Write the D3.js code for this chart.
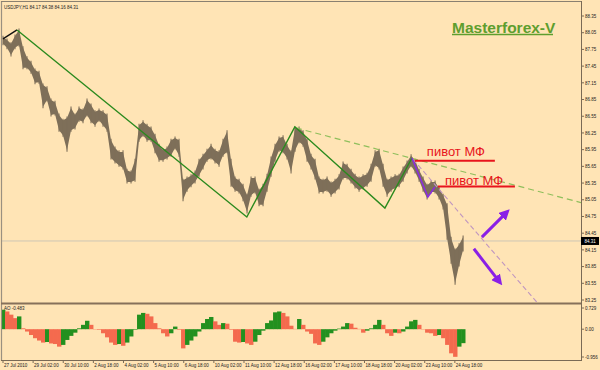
<!DOCTYPE html>
<html><head><meta charset="utf-8">
<script src="https://cdn.jsdelivr.net/npm/d3@7/dist/d3.min.js"></script>
<style>html,body{margin:0;padding:0;background:#FFE4B5;}svg{display:block;}</style>
</head><body>
<script>
// ---- data ----
const STEP = 4.25; // H1 bars per sampled point
const highs = [87.97,87.92,87.85,87.99,88.10,87.78,87.60,87.52,87.38,87.34,87.11,87.06,86.84,86.80,86.57,86.48,86.52,86.70,86.57,86.70,
86.66,86.84,86.75,86.63,86.66,86.63,86.57,86.12,85.98,85.91,85.91,85.58,85.55,85.76,86.39,86.45,86.39,86.34,86.21,86.03,
85.94,85.98,86.12,86.16,86.12,85.40,85.44,85.48,85.55,85.76,85.85,85.94,86.03,85.94,85.91,86.12,86.27,85.76,85.44,85.40,
85.31,85.13,85.44,85.44,85.22,85.31,85.49,85.80,86.03,86.16,86.18,86.03,85.91,86.34,86.34,86.27,86.12,85.85,85.76,85.44,
85.40,85.44,85.35,85.40,85.48,85.71,85.67,85.58,85.49,85.44,85.48,85.51,85.67,85.91,85.94,85.67,85.40,85.44,85.48,85.49,
85.62,85.73,85.84,85.76,85.58,85.44,85.31,85.37,85.37,85.26,85.13,84.96,84.36,84.15,84.24,84.38];
const lows = [87.85,87.78,87.65,87.78,87.83,87.42,87.42,87.34,87.15,87.16,86.72,86.84,86.57,86.59,86.30,86.21,85.94,86.30,86.34,86.48,
86.45,86.57,86.45,86.39,86.48,86.39,86.30,85.80,85.73,85.67,85.62,85.37,85.37,85.40,86.12,86.21,86.12,86.12,85.91,85.76,
85.76,85.80,85.85,85.98,85.85,85.05,85.22,85.30,85.37,85.49,85.62,85.76,85.80,85.73,85.67,85.85,85.91,85.31,85.22,85.19,
85.05,84.83,85.13,85.19,84.96,84.96,85.22,85.49,85.76,85.94,85.91,85.80,85.55,85.94,86.09,86.03,85.76,85.62,85.44,85.19,
85.19,85.22,85.13,85.19,85.26,85.44,85.44,85.37,85.28,85.22,85.26,85.31,85.40,85.67,85.62,85.31,85.13,85.22,85.26,85.30,
85.40,85.55,85.66,85.55,85.40,85.22,85.08,85.19,85.19,85.08,84.90,84.36,83.93,83.55,83.88,84.15];
const ao = [0.67,0.61,0.50,0.38,0.44,0.03,-0.08,-0.20,-0.31,-0.39,-0.46,-0.44,-0.49,-0.51,-0.60,-0.54,-0.37,-0.23,-0.12,0.03,
0.15,0.29,0.15,-0.01,-0.02,-0.14,-0.28,-0.46,-0.54,-0.51,-0.57,-0.46,-0.25,-0.02,0.50,0.56,0.53,0.44,0.21,0.03,
-0.14,-0.25,-0.14,0.09,-0.02,-0.66,-0.54,-0.39,-0.25,-0.08,0.21,0.35,0.42,0.27,0.15,0.21,0.19,-0.02,-0.43,-0.46,
-0.44,-0.49,-0.54,-0.43,-0.20,-0.05,0.21,0.30,0.58,0.61,0.56,0.44,0.12,0.01,0.35,0.15,-0.08,-0.16,-0.49,-0.54,
-0.43,-0.28,-0.14,-0.05,0.02,0.09,0.21,0.19,0.05,0.01,-0.12,-0.05,0.03,0.15,0.32,0.15,-0.14,-0.23,-0.12,-0.14,
-0.08,0.09,0.27,0.32,0.15,-0.01,-0.12,-0.14,-0.23,-0.20,-0.31,-0.54,-0.83,-0.95,-0.60,-0.48];
const priceTicks = [88.35,88.05,87.75,87.45,87.15,86.85,86.55,86.25,85.95,85.65,85.35,85.05,84.75,84.45,84.15,83.85,83.55,83.25];
const aoTicks = [0.729, 0, -0.956];
const aoTickLabels = ["0.729","0.00","-0.956"];
const dateLabels = ["27 Jul 2010","29 Jul 02:00","30 Jul 10:00","2 Aug 18:00","4 Aug 02:00","5 Aug 10:00","6 Aug 18:00","10 Aug 02:00",
"11 Aug 10:00","12 Aug 18:00","16 Aug 02:00","17 Aug 10:00","18 Aug 18:00","20 Aug 02:00","23 Aug 10:00","24 Aug 18:00"];
const BARS_PER_LABEL = 32;
// zigzag pivots: [bar, price]
const zigBlack = [[0,87.94],[14.9,88.10]];
const zigGreen = [[14.9,88.10],[259,84.74],[310,86.36],[405.7,84.90],[434.4,85.80]];
const zigPurple = [[434.4,85.80],[451.4,85.10],[458.8,85.28]];
const trendGreen = [[311.2,86.34],[614,85.00]];
const trendPurple = [[435.4,85.78],[567.1,83.21]];
const pivots = [{from:437.5,to:522.5,price:85.75},{from:462,to:543.8,price:85.29}];
const arrows = [[[508.7,84.38],[534.2,84.81]],[[500.2,84.17],[526.8,83.59]]];
const lastPrice = 84.31;
const header = "USDJPY,H1  84.17 84.38 84.16 84.31";
const aoLabel = "AO -0.483";

// ---- drawing ----
const W=600,H=370;
const svg=d3.select("body").append("svg").attr("width",W).attr("height",H);
svg.append("rect").attr("width",W).attr("height",H).attr("fill","#FFE4B5");
const x=d3.scaleLinear().domain([0,614]).range([3,581]);
const y=d3.scaleLinear().domain([83.25,88.35]).range([300,16]);
const ya=d3.scaleLinear().domain([-0.956,0.729]).range([357,308]);
const FONT="Liberation Sans, Arial, sans-serif";
const SMALL=4.5;
const frame="#7a6a55";
const candle="#7e6f59";

const main=svg.append("g");
main.append("clipPath").attr("id","cm").append("rect").attr("x",2).attr("y",3).attr("width",579).attr("height",299);
main.append("line").attr("x1",2).attr("x2",581).attr("y1",y(lastPrice)).attr("y2",y(lastPrice)).attr("stroke","#cfc6b4").attr("stroke-width",1);

const pts=highs.map((h,i)=>({bar:i*STEP,h,l:lows[i]}));
const area=d3.area().x(d=>x(d.bar)).y0(d=>y(d.l)).y1(d=>y(d.h));
main.append("path").datum(pts).attr("d",area).attr("fill",candle);
main.selectAll("line.bar").data(pts).join("line").attr("class","bar")
 .attr("x1",d=>x(d.bar)).attr("x2",d=>x(d.bar)).attr("y1",d=>y(d.h)-1.5).attr("y2",d=>y(d.l)+1.5)
 .attr("stroke",candle).attr("stroke-width",1.1);

const ln=d3.line().x(d=>x(d[0])).y(d=>y(d[1]));
const g2=main.append("g").attr("clip-path","url(#cm)");
g2.append("path").attr("d",ln(trendGreen)).attr("fill","none").attr("stroke","#8fbf5c").attr("stroke-width",1.2).attr("stroke-dasharray","6,4");
g2.append("path").attr("d",ln(trendPurple)).attr("fill","none").attr("stroke","#c096c0").attr("stroke-width",1.1).attr("stroke-dasharray","5,3");
g2.append("path").attr("d",ln(zigBlack)).attr("fill","none").attr("stroke","#111").attr("stroke-width",1.3);
g2.append("path").attr("d",ln(zigGreen)).attr("fill","none").attr("stroke","#2b8a1e").attr("stroke-width",1.4);
g2.append("path").attr("d",ln(zigPurple)).attr("fill","none").attr("stroke","#8a2be2").attr("stroke-width",1.5);

pivots.forEach((p,i)=>{
  g2.append("line").attr("x1",x(p.from)).attr("x2",x(p.to)).attr("y1",y(p.price)).attr("y2",y(p.price)).attr("stroke","#e8141c").attr("stroke-width",2);
  svg.append("text").attr("x",x(p.from)+(i===0?12:7)).attr("y",y(p.price)-(i===0?4.5:1.5))
   .attr("font-family",FONT).attr("font-size",13).attr("fill","#e8141c").text("пивот МФ");
});
const defs=svg.append("defs");
defs.append("marker").attr("id","ah").attr("viewBox","0 0 10 10").attr("refX",5).attr("refY",5)
 .attr("markerWidth",3.6).attr("markerHeight",3.6).attr("orient","auto")
 .append("path").attr("d","M0,0L10,5L0,10z").attr("fill","#8a1fe6");
arrows.forEach(a=>{
  svg.append("path").attr("d",ln(a)).attr("stroke","#8a1fe6").attr("stroke-width",3).attr("fill","none").attr("marker-end","url(#ah)");
});

svg.append("text").attr("x",452).attr("y",33).attr("font-family",FONT).attr("font-weight","bold").attr("font-size",15.5)
 .attr("fill","#5e9e2e").text("Masterforex-V");
svg.append("line").attr("x1",452).attr("x2",553).attr("y1",34.5).attr("y2",34.5).attr("stroke","#5e9e2e").attr("stroke-width",1.3);
svg.append("text").attr("x",4).attr("y",8.5).attr("font-family",FONT).attr("font-size",SMALL).attr("fill","#222").text(header);

// AO histogram
const aoG=svg.append("g");
const bw=x(STEP)-x(0);
aoG.selectAll("rect").data(ao).join("rect")
 .attr("x",(d,i)=>x(i*STEP)-bw/2).attr("width",bw+0.4)
 .attr("y",d=>Math.min(ya(d),ya(0))).attr("height",d=>Math.abs(ya(d)-ya(0)))
 .attr("fill",(d,i)=> (i===0||d>ao[i-1])?"#23901f":"#f46a4e");
svg.append("text").attr("x",4).attr("y",310).attr("font-family",FONT).attr("font-size",SMALL).attr("fill","#222").text(aoLabel);

// frames
svg.append("line").attr("x1",1.5).attr("x2",1.5).attr("y1",1).attr("y2",361).attr("stroke","#9a9080").attr("stroke-width",1.2);
svg.append("line").attr("x1",1).attr("x2",581).attr("y1",1.5).attr("y2",1.5).attr("stroke","#8a8070").attr("stroke-width",1.2);
svg.append("line").attr("x1",581.5).attr("x2",581.5).attr("y1",1).attr("y2",361).attr("stroke",frame).attr("stroke-width",1);
svg.append("line").attr("x1",1).attr("x2",581).attr("y1",303.5).attr("y2",303.5).attr("stroke","#86705a").attr("stroke-width",2.2);
svg.append("line").attr("x1",1).attr("x2",581).attr("y1",360.5).attr("y2",360.5).attr("stroke",frame).attr("stroke-width",1);

const ra=svg.append("g");
priceTicks.forEach(t=>{
  ra.append("line").attr("x1",581).attr("x2",584).attr("y1",y(t)).attr("y2",y(t)).attr("stroke",frame);
  ra.append("text").attr("x",585).attr("y",y(t)+1.7).attr("font-family",FONT).attr("font-size",SMALL).attr("fill","#222").text(t.toFixed(2));
});
ra.append("rect").attr("x",581).attr("y",y(lastPrice)-4).attr("width",18).attr("height",8).attr("fill","#000");
ra.append("text").attr("x",584.5).attr("y",y(lastPrice)+1.7).attr("font-family",FONT).attr("font-size",SMALL).attr("fill","#fff").text(lastPrice.toFixed(2));
aoTicks.forEach((t,i)=>{
  ra.append("line").attr("x1",581).attr("x2",584).attr("y1",ya(t)).attr("y2",ya(t)).attr("stroke",frame);
  ra.append("text").attr("x",585).attr("y",ya(t)+1.7).attr("font-family",FONT).attr("font-size",SMALL).attr("fill","#222").text(aoTickLabels[i]);
});
const xb=d3.scaleLinear().domain([0,614]).range([3,581]);
dateLabels.forEach((s,i)=>{
  const px=xb(i*BARS_PER_LABEL);
  svg.append("line").attr("x1",px).attr("x2",px).attr("y1",360).attr("y2",363).attr("stroke",frame);
  svg.append("text").attr("x",px+1).attr("y",367).attr("font-family",FONT).attr("font-size",SMALL).attr("fill","#222").text(s);
});
</script>
</body></html>
